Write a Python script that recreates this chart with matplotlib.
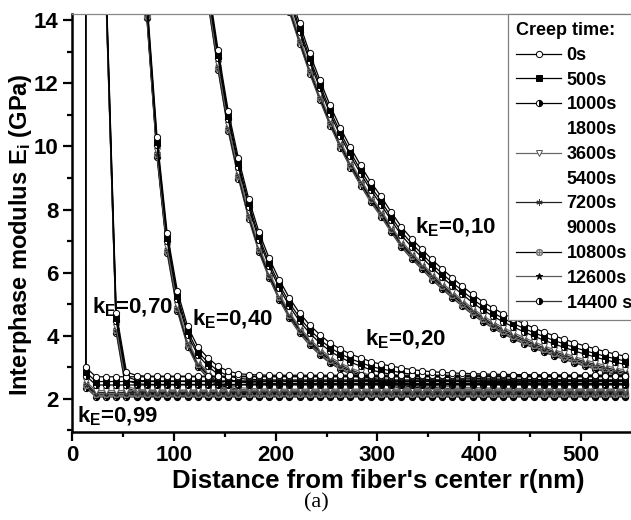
import numpy as np
import matplotlib
matplotlib.use('Agg')
import matplotlib.pyplot as plt
from matplotlib.lines import Line2D

plt.rcParams['font.family'] = ['Liberation Sans', 'DejaVu Sans']
plt.rcParams['font.weight'] = 'bold'
plt.rcParams['axes.labelweight'] = 'bold'
plt.rcParams['mathtext.fontset'] = 'custom'
plt.rcParams['mathtext.rm'] = 'Liberation Sans:bold'
plt.rcParams['mathtext.it'] = 'Liberation Sans:bold'
plt.rcParams['mathtext.bf'] = 'Liberation Sans:bold'
plt.rcParams['mathtext.default'] = 'rm'

# markers are every 10 nm from the fiber surface
r_grid = np.arange(13.5, 550, 10)
r_fiber = 13.0
e_fiber = 60.0   # fiber modulus, far above the axis

# 0s curve of each k_E family (GPa)
k_names = ['0,99', '0,70', '0,40', '0,20', '0,10']
k_start = [13.5, 33.5, 73.5, 133.5, 213.5]

e_099 = [3.00, 2.70, 2.70, 2.70, 2.70, 2.70, 2.70, 2.70, 2.70, 2.70,
         2.70, 2.70, 2.70, 2.70, 2.70, 2.70, 2.70, 2.70, 2.70, 2.70,
         2.70, 2.70, 2.70, 2.70, 2.70, 2.70, 2.70, 2.70, 2.70, 2.70,
         2.70, 2.70, 2.70, 2.70, 2.70, 2.70, 2.70, 2.70, 2.70, 2.70,
         2.70, 2.70, 2.70, 2.70, 2.70, 2.70, 2.70, 2.70, 2.70, 2.70,
         2.70, 2.70, 2.70, 2.70]
e_070 = [15.2, 4.72, 2.85, 2.74, 2.72, 2.72, 2.72, 2.72, 2.72, 2.72,
         2.72, 2.72, 2.72, 2.72, 2.72, 2.72, 2.72, 2.72, 2.72, 2.72,
         2.72, 2.72, 2.72, 2.72, 2.72, 2.72, 2.72, 2.72, 2.72, 2.72,
         2.72, 2.72, 2.72, 2.72, 2.72, 2.72, 2.72, 2.72, 2.72, 2.72,
         2.72, 2.72, 2.72, 2.72, 2.72, 2.72, 2.72, 2.72, 2.72, 2.72,
         2.72, 2.72]
e_040 = [14.7, 10.3, 7.25, 5.42, 4.30, 3.65, 3.30, 3.03, 2.88, 2.80,
         2.77, 2.76, 2.75, 2.75, 2.75, 2.75, 2.75, 2.75, 2.75, 2.75,
         2.75, 2.75, 2.75, 2.75, 2.75, 2.75, 2.75, 2.75, 2.75, 2.75,
         2.75, 2.75, 2.75, 2.75, 2.75, 2.75, 2.75, 2.75, 2.75, 2.75,
         2.75, 2.75, 2.75, 2.75, 2.75, 2.75, 2.75, 2.75]
e_020 = [15.2, 13.05, 11.12, 9.62, 8.35, 7.30, 6.47, 5.78, 5.20, 4.72,
         4.34, 4.03, 3.77, 3.58, 3.42, 3.30, 3.18, 3.10, 3.04, 2.98,
         2.93, 2.89, 2.86, 2.84, 2.82, 2.81, 2.80, 2.79, 2.78, 2.78,
         2.77, 2.77, 2.76, 2.76, 2.76, 2.75, 2.75, 2.75, 2.75, 2.74,
         2.74, 2.74]
e_010 = [14.9, 13.9, 12.95, 12.1, 11.3, 10.6, 9.97, 9.4, 8.87, 8.42,
         7.92, 7.45, 7.08, 6.75, 6.42, 6.12, 5.84, 5.57, 5.31, 5.08,
         4.88, 4.70, 4.54, 4.39, 4.25, 4.12, 4.00, 3.89, 3.78, 3.68,
         3.59, 3.50, 3.42, 3.35]
k_curves = [e_099, e_070, e_040, e_020, e_010]

# creep times; shift of the far-field level relative to 0s (GPa)
creep_times = ['0s', '500s', '1000s', '1800s', '3600s', '5400s',
               '7200s', '9000s', '10800s', '12600s', '14400 s']
drawn_times = ['0s', '500s', '1000s', '3600s', '7200s', '10800s',
               '12600s', '14400 s']
level_shift = [0.0, -0.15, -0.26, -0.44, -0.50, -0.55, -0.60, -0.64]

styles = {
    '0s': dict(color='black', marker='o', mfc='white', mec='black'),
    '500s': dict(color='black', marker='s', mfc='black', mec='black'),
    '1000s': dict(color='black', marker='o', fillstyle='right', mfc='black',
                  markerfacecoloralt='white', mec='black'),
    '3600s': dict(color='#6a6a6a', marker='v', mfc='white', mec='#555555'),
    '7200s': dict(color='#222222', marker=(6, 2, 0), mfc='black', mec='#333333'),
    '10800s': dict(color='black', marker=r'$\oplus$', mfc='#777777', mec='#777777'),
    '12600s': dict(color='#5a5a5a', marker='*', mfc='black', mec='black'),
    '14400 s': dict(color='#333333', marker='o', fillstyle='right', mfc='black',
                    markerfacecoloralt='white', mec='black'),
}

fig = plt.figure(figsize=(6.31, 5.2), dpi=100)
ax = fig.add_axes([72 / 631, 88 / 520, 560 / 631, 418 / 520])

for t, shift in reversed(list(zip(drawn_times, level_shift))):
    for start, e in zip(k_start, k_curves):
        r = r_grid[r_grid >= start][:len(e)]
        r = np.r_[r_fiber, r]
        y = np.r_[e_fiber, e] + shift
        ax.plot(r, y, lw=0.9, ms=4.5, mew=0.7, clip_on=True, **styles[t])

# k_E labels
lab_pos = {'0,99': (4.9, 1.24), '0,70': (19.6, 4.72), '0,40': (117.9, 4.34),
           '0,20': (287.8, 3.71), '0,10': (336.9, 7.25)}
for name in k_names:
    x, y = lab_pos[name]
    ax.text(x, y, r'k$_E$=' + name, fontsize=16, zorder=5)

ax.set_xlim(0, 550)
ax.set_ylim(0.95, 14.2)
ax.set_xticks([0, 100, 200, 300, 400, 500])
ax.set_xticks([50, 150, 250, 350, 450], minor=True)
ax.set_yticks([2, 4, 6, 8, 10, 12, 14])
ax.set_yticks([1, 3, 5, 7, 9, 11, 13], minor=True)
ax.tick_params(which='major', direction='out', length=6.5, width=1.6,
               labelsize=16, pad=3, top=False, right=False)
ax.tick_params(which='minor', direction='out', length=3.5, width=1.6,
               top=False, right=False)
for s in ['left', 'bottom']:
    ax.spines[s].set_linewidth(1.8)
ax.spines['top'].set_color('#888888')
ax.spines['top'].set_linewidth(0.9)
ax.spines['right'].set_visible(False)

ax.set_xlabel("Distance from fiber's center r(nm)", fontsize=18.5)
ax.xaxis.set_label_coords(0.546, -0.088)
ax.set_ylabel(r'Interphase modulus E$_i$ (GPa)', fontsize=17)
ax.yaxis.set_label_coords(-0.068, 0.471)

handles = []
for t in creep_times:
    if t in styles:
        handles.append(Line2D([], [], lw=0.9, ms=4.5, mew=0.7, **styles[t]))
    else:
        handles.append(Line2D([], [], linestyle='none'))
leg = fig.legend(handles, creep_times, loc='upper left',
                 bbox_to_anchor=(508 / 631, 506 / 520),
                 bbox_transform=fig.transFigure, borderaxespad=0,
                 title='Creep time:', fontsize=13,
                 title_fontproperties={'weight': 'bold', 'size': 13},
                 alignment='left', fancybox=False, edgecolor='#808080',
                 framealpha=1, handlelength=2.5, handletextpad=0.3,
                 labelspacing=0.43, borderpad=0.45)
leg.get_frame().set_linewidth(0.9)

fig.text(316 / 631, 1 - 503 / 520, '(a)', family='Liberation Serif',
         fontweight='normal', fontsize=16, ha='center', va='center')

fig.savefig('out.png', dpi=100)
